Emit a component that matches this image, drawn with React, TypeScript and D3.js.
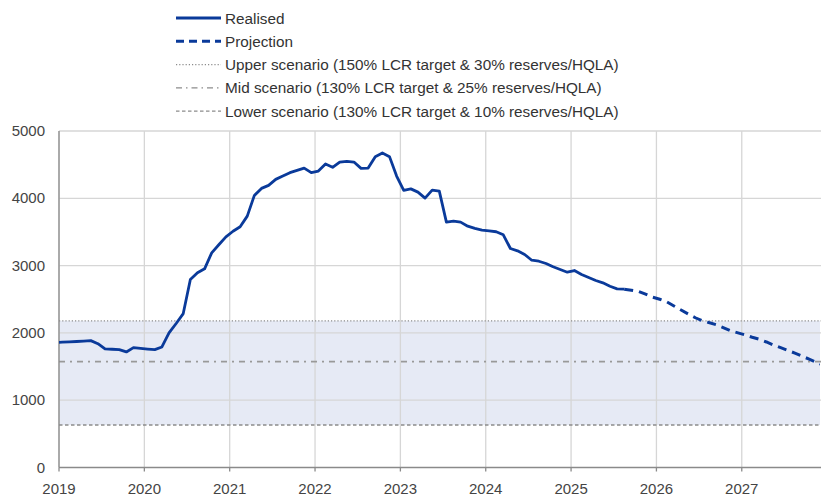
import React from "react";
import * as d3 from "d3";

const realisedValues: number[] = [
  1862, 1868, 1872, 1878, 1885, 1840, 1762, 1757, 1751, 1717, 1781, 1770,
  1760, 1751, 1791, 2000, 2140, 2287, 2793, 2893, 2952, 3190, 3310, 3426,
  3510, 3577, 3735, 4043, 4147, 4192, 4281, 4330, 4381, 4415, 4449, 4381,
  4405, 4509, 4460, 4539, 4549, 4539, 4445, 4449, 4619, 4673, 4619, 4330,
  4118, 4140, 4092, 4003, 4122, 4107, 3646, 3661, 3646, 3586, 3552, 3527,
  3515, 3503, 3458, 3254, 3220, 3165, 3080, 3065, 3031, 2982, 2942, 2902,
  2927, 2868, 2823, 2778, 2744, 2693, 2655, 2649,
];
const projectionValues: number[] = [
  2649, 2635, 2615, 2575, 2530, 2500, 2460, 2400, 2340, 2280, 2225, 2180,
  2150, 2120, 2075, 2030, 2000, 1970, 1935, 1905, 1865, 1820, 1780, 1740,
  1700, 1655, 1610, 1565, 1520,
];
const realisedStartValue = 1860;
const projectionStartMonth = 79;
const upperScenario = 2180;
const midScenario = 1573;
const lowerScenario = 631;
const yearLabels: string[] = ["2019", "2020", "2021", "2022", "2023", "2024", "2025", "2026", "2027"];
const yTicks: number[] = [0, 1000, 2000, 3000, 4000, 5000];
const legendLabels: string[] = [
  "Realised",
  "Projection",
  "Upper scenario (150% LCR target & 30% reserves/HQLA)",
  "Mid scenario (130% LCR target & 25% reserves/HQLA)",
  "Lower scenario (130% LCR target & 10% reserves/HQLA)",
];

const W = 821;
const H = 496;
const M = { left: 59, right: 820, top: 131, bottom: 467.5 };
const BLUE = "#0a3a9a";
const GREY = "#8c8c8c";
const FONT = "'Liberation Sans', Arial, sans-serif";
const MID_OFFSET = 0.47;

export default function App() {
  const x = d3.scaleLinear().domain([0, 107]).range([M.left, M.right]);
  const y = d3.scaleLinear().domain([0, 5000]).range([M.bottom, M.top]);

  const realisedPts: [number, number][] = [
    [0, realisedStartValue],
    ...realisedValues.map((v, i) => [i + MID_OFFSET, v] as [number, number]),
  ];
  const projPts: [number, number][] = projectionValues.map(
    (v, i) => [projectionStartMonth + i + MID_OFFSET, v] as [number, number]
  );
  const line = d3
    .line<[number, number]>()
    .x((d) => x(d[0]))
    .y((d) => y(d[1]));

  const legendRows = [
    { dash: "none", w: 3, color: BLUE },
    { dash: "8,5", w: 3, color: BLUE },
    { dash: "1.2,2", w: 1.3, color: GREY },
    { dash: "6,4,1.5,4", w: 1.3, color: GREY },
    { dash: "3.5,2.5", w: 1.3, color: GREY },
  ];

  return (
    <svg width={W} height={H} style={{ position: "absolute", left: 0, top: 0, background: "#fff" }}>
      <defs>
        <clipPath id="plot">
          <rect x={M.left} y={M.top - 5} width={M.right - M.left} height={M.bottom - M.top + 5} />
        </clipPath>
      </defs>
      <rect
        x={M.left}
        y={y(upperScenario)}
        width={M.right - M.left}
        height={y(lowerScenario) - y(upperScenario)}
        fill="#e6eaf5"
      />
      {yTicks.slice(1).map((t) => (
        <line key={"gy" + t} x1={M.left} x2={M.right + 1} y1={y(t)} y2={y(t)} stroke="#d6d6d6" strokeWidth={1.3} />
      ))}
      {yearLabels.map((lab, i) => (
        <line key={"gx" + lab} x1={x(i * 12)} x2={x(i * 12)} y1={M.top} y2={M.bottom} stroke="#d6d6d6" strokeWidth={1.3} />
      ))}
      <line x1={M.left} x2={M.right + 1} y1={y(upperScenario)} y2={y(upperScenario)} stroke={GREY} strokeWidth={1.3} strokeDasharray="1.2,2" />
      <line x1={M.left} x2={M.right + 1} y1={y(midScenario)} y2={y(midScenario)} stroke="#999" strokeWidth={1.8} strokeDasharray="6,5,2,5" />
      <line x1={M.left} x2={M.right + 1} y1={y(lowerScenario)} y2={y(lowerScenario)} stroke={GREY} strokeWidth={1.5} strokeDasharray="3.5,2.5" />
      <line x1={M.left} x2={M.left} y1={M.top} y2={M.bottom} stroke="#8a8a8a" strokeWidth={1.3} />
      <line x1={M.left} x2={M.right + 1} y1={M.bottom} y2={M.bottom} stroke="#8a8a8a" strokeWidth={1.3} />
      {yearLabels.map((lab, i) => (
        <g key={"xt" + lab}>
          <line x1={x(i * 12)} x2={x(i * 12)} y1={M.bottom} y2={M.bottom + 4} stroke="#8a8a8a" strokeWidth={1.3} />
          <text x={x(i * 12)} y={494} textAnchor="middle" fontFamily={FONT} fontSize={15} fill="#444">
            {lab}
          </text>
        </g>
      ))}
      {yTicks.map((t) => (
        <text key={"yt" + t} x={45} y={y(t) + 5} textAnchor="end" fontFamily={FONT} fontSize={15} fill="#444">
          {t}
        </text>
      ))}
      <g clipPath="url(#plot)">
        <path d={line(realisedPts) || ""} fill="none" stroke={BLUE} strokeWidth={2.8} strokeLinejoin="round" />
        <path d={line(projPts) || ""} fill="none" stroke={BLUE} strokeWidth={3} strokeDasharray="9,6" />
      </g>
      {legendLabels.map((lab, i) => {
        const ly = 18 + i * 23.3;
        const r = legendRows[i];
        return (
          <g key={"lg" + i}>
            <line x1={176} x2={221} y1={ly} y2={ly} stroke={r.color} strokeWidth={r.w} strokeDasharray={r.dash} />
            <text x={225} y={ly + 5.5} fontFamily={FONT} fontSize={15.3} fill="#333">
              {lab}
            </text>
          </g>
        );
      })}
    </svg>
  );
}
